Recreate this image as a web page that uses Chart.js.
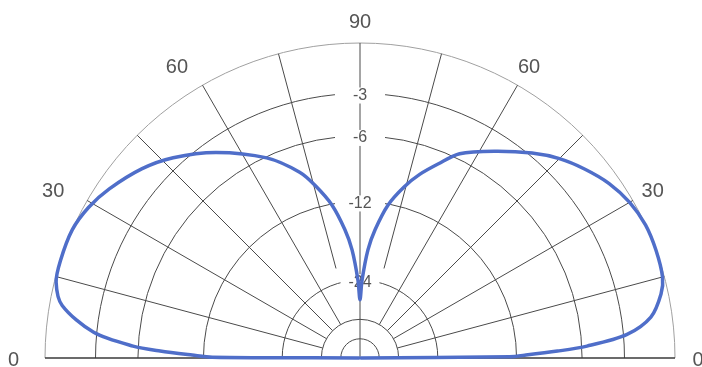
<!DOCTYPE html>
<html>
<head>
<meta charset="utf-8">
<script src="https://cdn.jsdelivr.net/npm/chart.js@4.4.0/dist/chart.umd.min.js"></script>
<style>
  html, body { margin: 0; padding: 0; background: #ffffff; }
  canvas { display: block; }
</style>
</head>
<body>
<canvas id="pattern" width="702" height="367"></canvas>
<script>
// Elevation angle in degrees: 0 = right horizon, 90 = zenith, 180 = left horizon
const elevationDeg = [
  0, 0.5, 1, 2, 3, 5, 8, 12, 15, 20, 25, 30, 35, 40, 45, 50, 57, 64, 68, 72, 75.5, 79.6, 83.3, 85.8, 88.5, 90,
  91.5, 94.2, 96.7, 100.4, 104.5, 108, 115, 125, 133, 139, 146, 151, 156, 162, 166, 170, 174.5, 177, 178, 179, 179.7, 180
];
// Relative gain in dB at each elevation angle
const gainDb = [
  -99, -12.8, -11, -8, -5.6, -2.8, -1.2, -0.4, -0.1, 0, 0, -0.2, -0.6, -1.2, -1.9, -2.8, -4.2, -5.6, -7.0, -8.4, -9.9, -12.1, -15.3, -18.3, -24, -29,
  -24, -18.3, -15.3, -12.1, -9.8, -8.2, -6.1, -3.9, -2.4, -1.5, -0.7, -0.25, 0, 0, -0.1, -0.7, -2.8, -5.6, -7.8, -10.8, -13, -99
];

// Grid rings (dB) and the ones that carry a label on the vertical axis
const ringDb = [0, -3, -6, -12, -24, -36, -48];
const ringLabels = ['-3', '-6', '-12', '-24'];
// Angle tick labels (shown on both sides, 90 once at the top)
const angleTicks = [0, 30, 60, 90];
// Radial spokes (degrees above each horizon)
const spokeDeg = [15, 30, 45, 60, 75];

// ARRL log-periodic radius: every 2 dB shrinks the radius by 0.89
const rho = db => Math.pow(0.89, -db / 2);
const rad = d => d * Math.PI / 180;

const patternPoints = elevationDeg.map((a, i) => {
  const r = rho(gainDb[i]);
  return { x: r * Math.cos(rad(a)), y: r * Math.sin(rad(a)) };
});

const GRID = '#4a4a4a';
const TEXT = '#555555';
const FONT = '"Liberation Sans", Arial, Helvetica, sans-serif';

const polarGrid = {
  id: 'polarGrid',
  beforeDatasetsDraw(chart) {
    const { ctx, scales: { x, y } } = chart;
    const cx = x.getPixelForValue(0);
    const cy = y.getPixelForValue(0);
    const R = x.getPixelForValue(1) - cx;
    ctx.save();

    // rings
    ringDb.forEach(db => {
      ctx.beginPath();
      ctx.arc(cx, cy, R * rho(db), Math.PI, 2 * Math.PI);
      ctx.strokeStyle = db === 0 ? '#a0a0a0' : GRID;
      ctx.lineWidth = 1;
      ctx.stroke();
    });

    // spokes
    ctx.strokeStyle = GRID;
    ctx.lineWidth = 1;
    spokeDeg.forEach(s => {
      const inner = s === 75 ? rho(-21) : rho(-36);
      [s, 180 - s].forEach(a => {
        const c = Math.cos(rad(a)), sn = Math.sin(rad(a));
        ctx.beginPath();
        ctx.moveTo(cx + R * inner * c, cy - R * inner * sn);
        ctx.lineTo(cx + R * c, cy - R * sn);
        ctx.stroke();
      });
    });

    // vertical axis
    ctx.beginPath();
    ctx.moveTo(cx, cy);
    ctx.lineTo(cx, cy - R);
    ctx.stroke();

    // horizon line
    ctx.beginPath();
    ctx.moveTo(cx - R, cy);
    ctx.lineTo(cx + R, cy);
    ctx.strokeStyle = '#3a3a3a';
    ctx.lineWidth = 1.5;
    ctx.stroke();

    // dB labels on the vertical axis, each on a white patch
    ctx.font = '16px ' + FONT;
    ctx.textAlign = 'center';
    ctx.textBaseline = 'middle';
    ringLabels.forEach(t => {
      const r = R * rho(parseFloat(t));
      const ly = cy - r + 2;
      const half = Math.min(25, 0.25 * r);
      ctx.fillStyle = '#ffffff';
      ctx.fillRect(cx - half, ly - 8, half * 2, 16);
      ctx.fillStyle = TEXT;
      ctx.fillText(t, cx, ly);
    });

    // angle labels around the rim
    ctx.font = '20px ' + FONT;
    ctx.fillStyle = TEXT;
    const rl = R + 23;
    angleTicks.forEach(a => {
      const c = Math.cos(rad(a)), sn = Math.sin(rad(a));
      const ly = cy - rl * sn + 2;
      ctx.textAlign = 'center';
      if (a === 90) {
        ctx.fillText(String(a), cx, ly);
        return;
      }
      ctx.fillText(String(a), cx + rl * c, ly);
      ctx.textAlign = 'right';
      ctx.fillText(String(a), cx - rl * c - 3, ly);
    });

    ctx.restore();
  }
};

new Chart(document.getElementById('pattern'), {
  type: 'scatter',
  data: {
    datasets: [{
      data: patternPoints,
      showLine: true,
      borderColor: '#4f6ec9',
      borderWidth: 3.5,
      pointRadius: 0,
      tension: 0.3,
      clip: false,
      borderCapStyle: 'round',
      borderJoinStyle: 'round'
    }]
  },
  options: {
    responsive: false,
    animation: false,
    devicePixelRatio: 1,
    layout: { padding: { left: 45, right: 27, top: 43, bottom: 9 } },
    plugins: { legend: { display: false }, tooltip: { enabled: false } },
    scales: {
      x: { type: 'linear', min: -1, max: 1, display: false },
      y: { type: 'linear', min: 0, max: 1, display: false }
    }
  },
  plugins: [polarGrid]
});
</script>
</body>
</html>
